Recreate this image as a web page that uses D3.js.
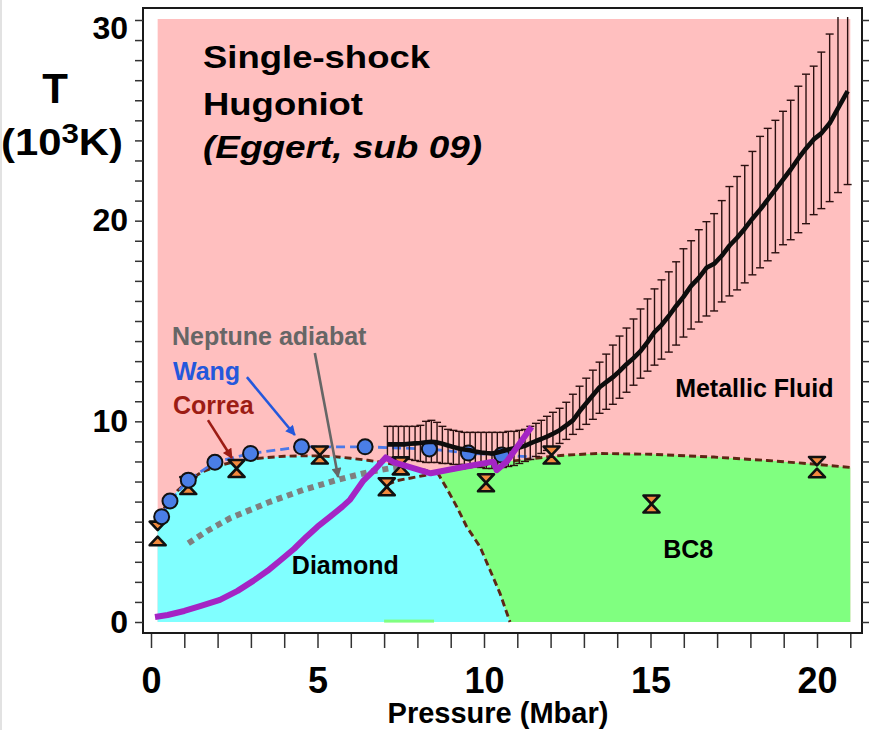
<!DOCTYPE html>
<html>
<head>
<meta charset="utf-8">
<script src="https://cdnjs.cloudflare.com/ajax/libs/d3/7.8.5/d3.min.js"></script>
<style>
body { margin: 0; background: #fff; }
svg text { font-family: "Liberation Sans", Arial, Helvetica, sans-serif; font-weight: bold; }
</style>
</head>
<body>
<div id="chart"></div>
<script>
// Eggert single-shock Hugoniot: pressure (Mbar), T (10^3 K), error bar ends
var eggertP = [7.10, 7.27, 7.43, 7.60, 7.76, 7.93, 8.09, 8.26, 8.42, 8.59, 8.75, 8.92, 9.08, 9.25, 9.41,
	9.58, 9.74, 9.91, 10.07, 10.24, 10.40, 10.57, 10.73, 10.90, 11.06, 11.23, 11.39, 11.56, 11.72, 11.89,
	12.07, 12.27, 12.47, 12.67, 12.87, 13.07, 13.27, 13.47, 13.67, 13.87, 14.07, 14.28, 14.49, 14.70, 14.91,
	15.12, 15.33, 15.55, 15.77, 15.99, 16.22, 16.45, 16.68, 16.91, 17.14, 17.37, 17.60, 17.83, 18.06, 18.29,
	18.52, 18.75, 18.98, 19.21, 19.44, 19.67, 19.90, 20.13, 20.38, 20.63, 20.92];
var eggertT = [8.85, 8.85, 8.85, 8.85, 8.88, 8.90, 8.92, 8.96, 8.98, 8.95, 8.88, 8.80, 8.72, 8.65, 8.60,
	8.56, 8.50, 8.45, 8.42, 8.40, 8.45, 8.52, 8.60, 8.66, 8.70, 8.78, 8.90, 9.02, 9.12, 9.24,
	9.38, 9.56, 9.80, 10.05, 10.50, 10.90, 11.30, 11.70, 11.95, 12.20, 12.50, 12.85, 13.15, 13.50, 13.95,
	14.45, 14.80, 15.25, 15.75, 16.20, 16.75, 17.15, 17.65, 17.85, 18.25, 18.75, 19.15, 19.60, 20.10, 20.55,
	21.05, 21.55, 22.05, 22.55, 23.10, 23.60, 24.05, 24.35, 24.85, 25.60, 26.45];
var eggertHi = [9.75, 9.75, 9.75, 9.75, 9.75, 9.75, 9.80, 10.0, 10.05, 9.95, 9.75, 9.60, 9.55, 9.50, 9.45,
	9.45, 9.45, 9.45, 9.45, 9.45, 9.45, 9.45, 9.50, 9.50, 9.55, 9.60, 9.75, 9.90, 10.05, 10.25,
	10.45, 10.65, 10.95, 11.35, 11.75, 12.15, 12.55, 12.95, 13.35, 13.80, 14.25, 14.65, 15.10, 15.60, 16.10,
	16.60, 17.05, 17.45, 17.95, 18.60, 19.00, 19.55, 19.95, 20.35, 21.00, 21.70, 22.20, 22.75, 23.45, 24.20,
	24.60, 25.00, 25.45, 26.00, 26.70, 27.30, 27.70, 28.40, 29.30, 31.0, 31.0];
var eggertLo = [8.20, 8.20, 8.15, 8.15, 8.10, 8.05, 8.00, 7.95, 7.95, 7.95, 7.90, 7.90, 7.85, 7.85, 7.85,
	7.80, 7.75, 7.70, 7.65, 7.65, 7.65, 7.70, 7.75, 7.80, 7.90, 8.00, 8.10, 8.25, 8.40, 8.55,
	8.70, 8.90, 9.10, 9.35, 9.60, 9.85, 10.10, 10.40, 10.60, 10.85, 11.15, 11.45, 11.80, 12.15, 12.50,
	12.80, 13.10, 13.45, 13.80, 14.20, 14.60, 14.95, 15.25, 15.50, 15.95, 16.25, 16.55, 16.90, 17.30, 17.65,
	18.00, 18.40, 18.80, 19.05, 19.40, 19.85, 20.30, 20.60, 20.95, 21.40, 21.80];

// Wang points
var wangP = [0.32, 0.57, 1.12, 1.92, 2.99, 4.52, 6.43, 8.36, 9.53, 10.53];
var wangT = [5.25, 6.03, 7.07, 7.96, 8.40, 8.73, 8.73, 8.62, 8.42, 8.32];
var wangCurve = [[0.15, 4.85], [0.32, 5.25], [0.57, 6.03], [1.12, 7.07], [1.92, 7.96], [2.99, 8.40],
	[4.52, 8.73], [6.43, 8.73], [8.36, 8.62], [9.53, 8.42], [10.53, 8.32], [11.45, 8.22]];

// Correa points: [P, T of lower triangle tip, T of upper triangle tip]
var correaPts = [[0.20, 4.25, 4.58], [1.12, 6.80, 6.80], [2.57, 7.65, 7.65], [5.07, 8.32, 8.32],
	[7.08, 6.74, 6.74], [7.50, 7.78, 7.78], [10.06, 6.94, 6.94], [12.03, 8.32, 8.32],
	[15.03, 5.88, 5.88], [20.00, 7.64, 7.80]];

// phase boundaries (Correa)
var meltDiamond = [[0.2, 5.2], [0.5, 5.9], [0.8, 6.55], [1.1, 7.0], [1.5, 7.45], [2.0, 7.78], [2.5, 7.98],
	[3.0, 8.12], [3.5, 8.2], [4.0, 8.26], [4.5, 8.28], [5.0, 8.28], [5.5, 8.24], [6.0, 8.16], [6.5, 8.06],
	[7.0, 7.94], [7.5, 7.8], [8.0, 7.64], [8.6, 7.45]];
var meltBC8 = [[8.6, 7.45], [9.5, 7.7], [10.5, 7.95], [11.5, 8.15], [12.3, 8.3], [13.4, 8.4], [15.0, 8.36],
	[16.9, 8.22], [18.5, 8.05], [19.9, 7.87], [21.0, 7.7]];
var diamondBC8 = [[8.6, 7.45], [8.88, 6.66], [9.18, 5.75], [9.48, 4.75], [9.88, 3.75], [10.18, 2.59],
	[10.48, 1.43], [10.78, 0]];
var lowerBranch = [[7.1, 6.85], [7.4, 7.05], [8.2, 7.3], [8.6, 7.45]];

// Neptune adiabat and the purple Hugoniot
var neptune = [[1.12, 3.92], [1.7, 4.55], [2.37, 5.17], [3.0, 5.6], [3.57, 5.99], [4.57, 6.58],
	[5.57, 7.07], [6.58, 7.49], [7.18, 7.66], [7.6, 7.75]];
var purpleHug = [[0.12, 0.25], [0.5, 0.35], [1.0, 0.55], [1.5, 0.8], [2.07, 1.1], [2.6, 1.55], [3.07, 2.05],
	[3.5, 2.55], [3.87, 3.05], [4.3, 3.65], [4.67, 4.25], [5.0, 4.75], [5.38, 5.25], [5.75, 5.75],
	[5.98, 6.1], [6.38, 7.05], [6.75, 7.65], [7.05, 8.2], [7.3, 7.95], [8.4, 7.41], [9.3, 7.7],
	[10.28, 7.99], [10.38, 7.57], [10.68, 7.99], [11.43, 9.73]];

var xTicks = d3.range(0, 22);
var yTicks = d3.range(0, 31);
var titleLines = ["Single-shock", "Hugoniot", "(Eggert, sub 09)"];

var width = 869;
var height = 730;
var frame = {left: 143, right: 862, top: 8, bottom: 633};

var svg = d3.select("#chart")
	.append("svg")
	.attr("width", width)
	.attr("height", height);

var x = d3.scaleLinear().domain([0, 20]).range([151, 817]);
var y = d3.scaleLinear().domain([0, 30]).range([622, 20]);
var line = d3.line().x(function(d) { return x(d[0]); }).y(function(d) { return y(d[1]); });

svg.append("rect").attr("x", 0).attr("y", 0).attr("width", 2).attr("height", height).attr("fill", "#e2e2e2");

var defs = svg.append("defs");
defs.append("clipPath").attr("id", "plotclip")
	.append("rect")
	.attr("x", frame.left).attr("y", 17)
	.attr("width", frame.right - frame.left).attr("height", frame.bottom - 17);

// phase regions
svg.append("rect")
	.attr("x", x(0.2)).attr("y", y(30.05))
	.attr("width", x(21.0) - x(0.2)).attr("height", y(0) - y(30.05))
	.attr("fill", "#ffbfbf");

svg.append("path")
	.attr("d", line([[0.2, 0]].concat(meltDiamond, diamondBC8.slice(1))) + "Z")
	.attr("fill", "#80ffff");

svg.append("path")
	.attr("d", line(meltBC8.concat([[21.0, 0]], diamondBC8.slice().reverse().slice(0, -1))) + "Z")
	.attr("fill", "#80ff80");

svg.append("rect")
	.attr("x", x(7.0)).attr("y", y(0.12))
	.attr("width", x(8.5) - x(7.0)).attr("height", y(-0.03) - y(0.12))
	.attr("fill", "#80ff80");

// boundaries
[meltDiamond, meltBC8, diamondBC8, lowerBranch].forEach(function(seg) {
	svg.append("path")
		.attr("d", line(seg))
		.attr("fill", "none")
		.attr("stroke", "#5e2614")
		.attr("stroke-width", 2.9)
		.attr("stroke-dasharray", "7,4");
});

// Neptune adiabat
svg.append("path")
	.attr("d", line(neptune))
	.attr("fill", "none")
	.attr("stroke", "#7f7f7f")
	.attr("stroke-width", 6)
	.attr("stroke-dasharray", "6,5");

// Wang dashed curve
svg.append("path")
	.attr("d", line(wangCurve))
	.attr("fill", "none")
	.attr("stroke", "#4a78e8")
	.attr("stroke-width", 2.8)
	.attr("stroke-dasharray", "9,5");

// error bars
var bars = svg.append("g").attr("clip-path", "url(#plotclip)")
	.selectAll(".ebar")
	.data(eggertP.map(function(p, i) { return {p: p, lo: eggertLo[i], hi: eggertHi[i]}; }))
	.enter().append("g").attr("class", "ebar");

bars.append("line")
	.attr("x1", function(d) { return x(d.p); }).attr("x2", function(d) { return x(d.p); })
	.attr("y1", function(d) { return y(d.lo); }).attr("y2", function(d) { return y(d.hi); });
bars.append("line")
	.attr("x1", function(d) { return x(d.p) - 4; }).attr("x2", function(d) { return x(d.p) + 4; })
	.attr("y1", function(d) { return y(d.lo); }).attr("y2", function(d) { return y(d.lo); });
bars.append("line")
	.attr("x1", function(d) { return x(d.p) - 4; }).attr("x2", function(d) { return x(d.p) + 4; })
	.attr("y1", function(d) { return y(d.hi); }).attr("y2", function(d) { return y(d.hi); });
bars.selectAll("line").attr("stroke", "#2b1010").attr("stroke-width", 1.4);

// Correa hourglass markers
var hg = svg.selectAll(".hg")
	.data(correaPts)
	.enter().append("g").attr("class", "hg");
hg.append("path")
	.attr("d", function(d) {
		var cx = x(d[0]), t = y(d[2]);
		return "M" + (cx - 8) + "," + (t - 8.5) + "L" + (cx + 8) + "," + (t - 8.5) + "L" + cx + "," + t + "Z";
	});
hg.append("path")
	.attr("d", function(d) {
		var cx = x(d[0]), b = y(d[1]);
		return "M" + (cx - 8) + "," + (b + 8.5) + "L" + (cx + 8) + "," + (b + 8.5) + "L" + cx + "," + b + "Z";
	});
hg.selectAll("path")
	.attr("fill", "#f28a3e")
	.attr("stroke", "#111")
	.attr("stroke-width", 2.6)
	.attr("stroke-linejoin", "round");

// Wang circles
svg.selectAll(".wang")
	.data(wangP)
	.enter().append("circle")
	.attr("class", "wang")
	.attr("cx", function(d) { return x(d); })
	.attr("cy", function(d, i) { return y(wangT[i]); })
	.attr("r", 7.5)
	.attr("fill", "#4a7ee6")
	.attr("stroke", "#111")
	.attr("stroke-width", 2);

// Eggert mean curve
svg.append("path")
	.attr("d", line(eggertP.map(function(p, i) { return [p, eggertT[i]]; })))
	.attr("fill", "none")
	.attr("stroke", "#0d0d0d")
	.attr("stroke-width", 4.6)
	.attr("stroke-linejoin", "round");

// purple Hugoniot
svg.append("path")
	.attr("d", line(purpleHug))
	.attr("fill", "none")
	.attr("stroke", "#a424c4")
	.attr("stroke-width", 6)
	.attr("stroke-linejoin", "round");

// frame
svg.append("rect")
	.attr("x", frame.left).attr("y", frame.top)
	.attr("width", frame.right - frame.left).attr("height", frame.bottom - frame.top)
	.attr("fill", "none")
	.attr("stroke", "#1a1a1a")
	.attr("stroke-width", 2);

// axes
var yAxis = svg.append("g")
	.attr("transform", "translate(" + frame.left + ",0)")
	.call(d3.axisLeft(y).tickValues(yTicks).tickSize(8).tickPadding(7)
		.tickFormat(function(d) { return d % 10 === 0 ? d : ""; }));
yAxis.select(".domain").remove();
yAxis.selectAll("line").attr("stroke", "#333").attr("stroke-width", 1.5);
yAxis.selectAll("text").attr("font-size", 32).attr("fill", "#000")
	.filter(function(d) { return d === 30; }).attr("dy", "0.57em");

var rAxis = svg.append("g")
	.attr("transform", "translate(" + frame.right + ",0)")
	.call(d3.axisRight(y).tickValues(yTicks).tickSize(7).tickFormat(""));
rAxis.select(".domain").remove();
rAxis.selectAll("line").attr("stroke", "#333").attr("stroke-width", 1.5);

var xAxis = svg.append("g")
	.attr("transform", "translate(0," + (frame.bottom + 1) + ")")
	.call(d3.axisBottom(x).tickValues(xTicks).tickSize(14).tickPadding(19)
		.tickFormat(function(d) { return d % 5 === 0 ? d : ""; }));
xAxis.select(".domain").remove();
xAxis.selectAll("line").attr("stroke", "#333").attr("stroke-width", 1.5);
xAxis.selectAll("text").attr("font-size", 36).attr("fill", "#000");

svg.append("text")
	.attr("x", 498).attr("y", 723)
	.attr("text-anchor", "middle")
	.attr("font-size", 29)
	.text("Pressure (Mbar)");

svg.append("text")
	.attr("x", 55).attr("y", 103)
	.attr("text-anchor", "middle")
	.attr("font-size", 42)
	.text("T");

var unit = svg.append("text")
	.attr("x", 62).attr("y", 155)
	.attr("text-anchor", "middle")
	.attr("font-size", 36)
	.attr("textLength", 122)
	.attr("lengthAdjust", "spacingAndGlyphs");
unit.append("tspan").text("(10");
unit.append("tspan").attr("dy", -12).attr("font-size", 27).text("3");
unit.append("tspan").attr("dy", 12).text("K)");

// title
var titleW = [227, 160, 279];
svg.selectAll(".title")
	.data(titleLines)
	.enter().append("text")
	.attr("class", "title")
	.attr("x", 203)
	.attr("y", function(d, i) { return [68, 115, 158][i]; })
	.attr("font-size", 32)
	.attr("font-style", function(d, i) { return i === 2 ? "italic" : "normal"; })
	.attr("textLength", function(d, i) { return titleW[i]; })
	.attr("lengthAdjust", "spacingAndGlyphs")
	.text(function(d) { return d; });

// region labels
function label(txt, p, t, color) {
	svg.append("text")
		.attr("x", x(p)).attr("y", y(t))
		.attr("font-size", 25)
		.attr("fill", color)
		.text(txt);
}
label("Diamond", 4.23, 2.39, "#000");
label("BC8", 15.38, 3.19, "#000");
label("Metallic Fluid", 15.74, 11.21, "#000");
label("Neptune adiabat", 0.63, 13.8, "#666");
label("Wang", 0.66, 12.06, "#2458dc");
label("Correa", 0.66, 10.36, "#9c1c14");

// annotation arrows
function arrow(id, from, to, color) {
	defs.append("marker")
		.attr("id", id)
		.attr("viewBox", "0 0 10 10")
		.attr("refX", 9).attr("refY", 5)
		.attr("markerWidth", 13).attr("markerHeight", 10)
		.attr("markerUnits", "userSpaceOnUse")
		.attr("orient", "auto")
		.append("path").attr("d", "M0,0L10,5L0,10Z").attr("fill", color);
	svg.append("path")
		.attr("d", line([from, to]))
		.attr("stroke", color)
		.attr("stroke-width", 2.6)
		.attr("marker-end", "url(#" + id + ")");
}
arrow("agray", [4.92, 13.4], [5.62, 7.22], "#666");
arrow("ablue", [2.88, 12.2], [4.32, 9.32], "#2458dc");
arrow("ared", [1.71, 10.06], [2.43, 8.17], "#9c1c14");
</script>
</body>
</html>
